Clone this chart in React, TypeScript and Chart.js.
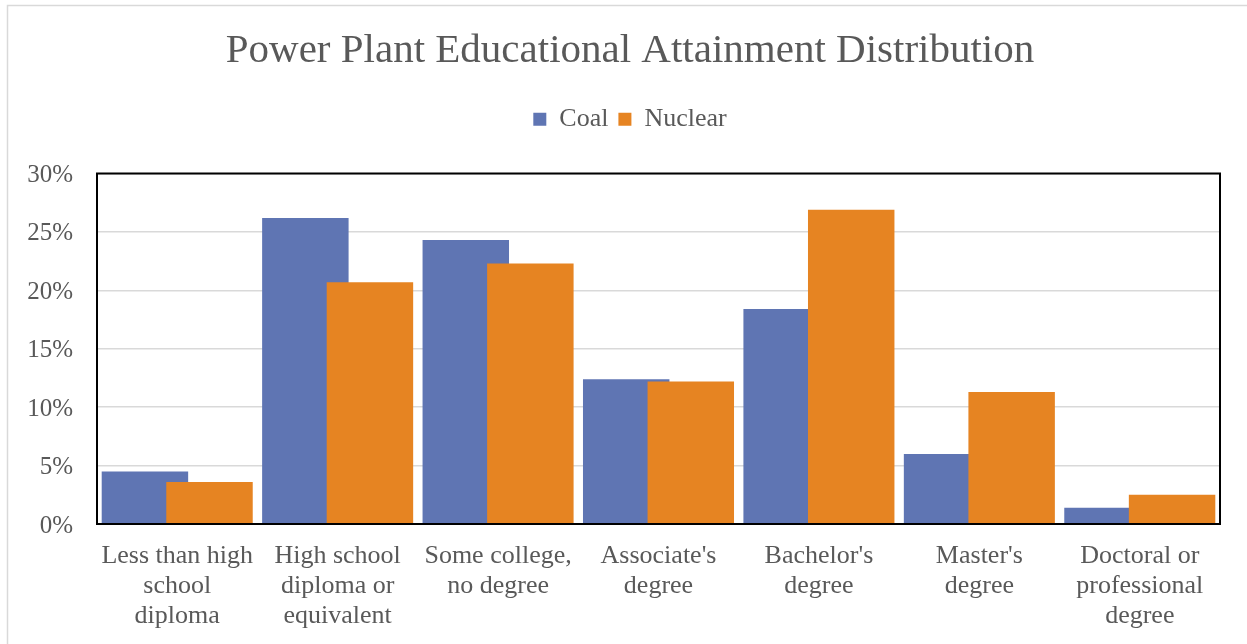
import { useEffect, useRef } from 'react';
import { Chart, registerables } from 'chart.js';

Chart.register(...registerables);

const categories: string[][] = [
  ['Less than high', 'school', 'diploma'],
  ['High school', 'diploma or', 'equivalent'],
  ['Some college,', 'no degree'],
  ["Associate's", 'degree'],
  ["Bachelor's", 'degree'],
  ["Master's", 'degree'],
  ['Doctoral or', 'professional', 'degree'],
];

const seriesNames = ['Coal', 'Nuclear'];
const coalShare = [4.5, 26.2, 24.3, 12.4, 18.4, 6.0, 1.4];
const nuclearShare = [3.6, 20.7, 22.3, 12.2, 26.9, 11.3, 2.5];

const yMin = 0;
const yMax = 30;
const yStep = 5;

const SERIF = "'Liberation Serif', 'Times New Roman', serif";
const TEXT = '#595959';
const LEGEND_GAP = 31.3;
const X_AXIS_HEIGHT = 120;
// Title and legend are centred on the whole chart box rather than the padded area.
const HEADER_LEFT = 13;
const HEADER_RIGHT = 1247;

// Extra room between the legend row and the plot area.
const legendSpacer = {
  id: 'legendSpacer',
  beforeInit(chart: any) {
    const legend = chart.legend;
    if (!legend) return;
    const fit = legend.fit;
    legend.fit = function () {
      fit.call(this);
      this.height += LEGEND_GAP;
    };
  },
  afterLayout(chart: any) {
    [chart.titleBlock, chart.legend].forEach((box: any) => {
      if (!box) return;
      box.left = HEADER_LEFT;
      box.right = HEADER_RIGHT;
      box.width = HEADER_RIGHT - HEADER_LEFT;
    });
  },
};

// Draw datasets first-to-last so the Nuclear bar sits over the overlapping Coal bar.
const forwardDrawOrder = {
  id: 'forwardDrawOrder',
  beforeDatasetsDraw(chart: any) {
    const { ctx, chartArea } = chart;
    ctx.save();
    ctx.beginPath();
    ctx.rect(chartArea.left, chartArea.top, chartArea.right - chartArea.left, chartArea.bottom - chartArea.top);
    ctx.clip();
    chart.getSortedVisibleDatasetMetas().forEach((meta: any) => meta.controller.draw());
    ctx.restore();
    return false;
  },
};

// Light outer border of the chart and the dark frame round the plot area.
const frames = {
  id: 'frames',
  beforeDraw(chart: any) {
    const { ctx } = chart;
    ctx.save();
    ctx.fillStyle = '#ffffff';
    ctx.fillRect(0, 0, chart.width, chart.height);
    ctx.strokeStyle = '#d9d9d9';
    ctx.lineWidth = 1.5;
    ctx.strokeRect(7.5, 5.5, chart.width + 40, chart.height + 40);
    ctx.restore();
  },
  afterDraw(chart: any) {
    const { ctx, chartArea } = chart;
    ctx.save();
    ctx.strokeStyle = '#000000';
    ctx.lineWidth = 2;
    ctx.strokeRect(chartArea.left, chartArea.top, chartArea.right - chartArea.left, chartArea.bottom - chartArea.top);
    ctx.restore();
  },
};

export default function App() {
  const canvasRef = useRef<HTMLCanvasElement | null>(null);

  useEffect(() => {
    if (!canvasRef.current) return;
    const chart = new Chart(canvasRef.current, {
      type: 'bar',
      data: {
        labels: categories,
        datasets: [
          {
            label: seriesNames[0],
            data: coalShare,
            backgroundColor: '#5f75b3',
            borderWidth: 0,
          },
          {
            label: seriesNames[1],
            data: nuclearShare,
            backgroundColor: '#e68422',
            borderWidth: 0,
          },
        ],
      },
      options: {
        animation: false,
        responsive: true,
        maintainAspectRatio: false,
        categoryPercentage: 0.805,
        barPercentage: 1.339,
        layout: { padding: { left: 8, right: 27, top: 0, bottom: 0 } },
        plugins: {
          tooltip: { enabled: false },
          title: {
            display: true,
            text: 'Power Plant Educational Attainment Distribution',
            color: TEXT,
            font: { family: SERIF, size: 41, weight: 'normal', lineHeight: 1.2 },
            padding: { top: 27, bottom: 20 },
          },
          legend: {
            display: true,
            position: 'top',
            labels: {
              color: TEXT,
              font: { family: SERIF, size: 26, lineHeight: 1.2 },
              boxWidth: 13,
              boxHeight: 13,
              padding: 10,
            },
          },
        },
        scales: {
          x: {
            afterFit(scale: any) {
              scale.height = X_AXIS_HEIGHT;
            },
            grid: { display: false, drawTicks: false },
            border: { display: false },
            ticks: {
              color: TEXT,
              font: { family: SERIF, size: 26, lineHeight: 1.15 },
              padding: 17,
              maxRotation: 0,
              autoSkip: false,
            },
          },
          y: {
            min: yMin,
            max: yMax,
            afterFit(scale: any) {
              scale.width = 89;
            },
            grid: { color: '#d9d9d9', lineWidth: 1.5, drawTicks: false },
            border: { display: false },
            ticks: {
              stepSize: yStep,
              color: TEXT,
              font: { family: SERIF, size: 25 },
              padding: 24,
              labelOffset: 2,
              callback: (v: any) => `${v}%`,
            },
          },
        },
      },
      plugins: [legendSpacer, forwardDrawOrder, frames],
    });
    return () => chart.destroy();
  }, []);

  return (
    <div style={{ position: 'fixed', left: 0, top: 0, width: 1247, height: 644, background: '#fff' }}>
      <canvas ref={canvasRef} />
    </div>
  );
}
